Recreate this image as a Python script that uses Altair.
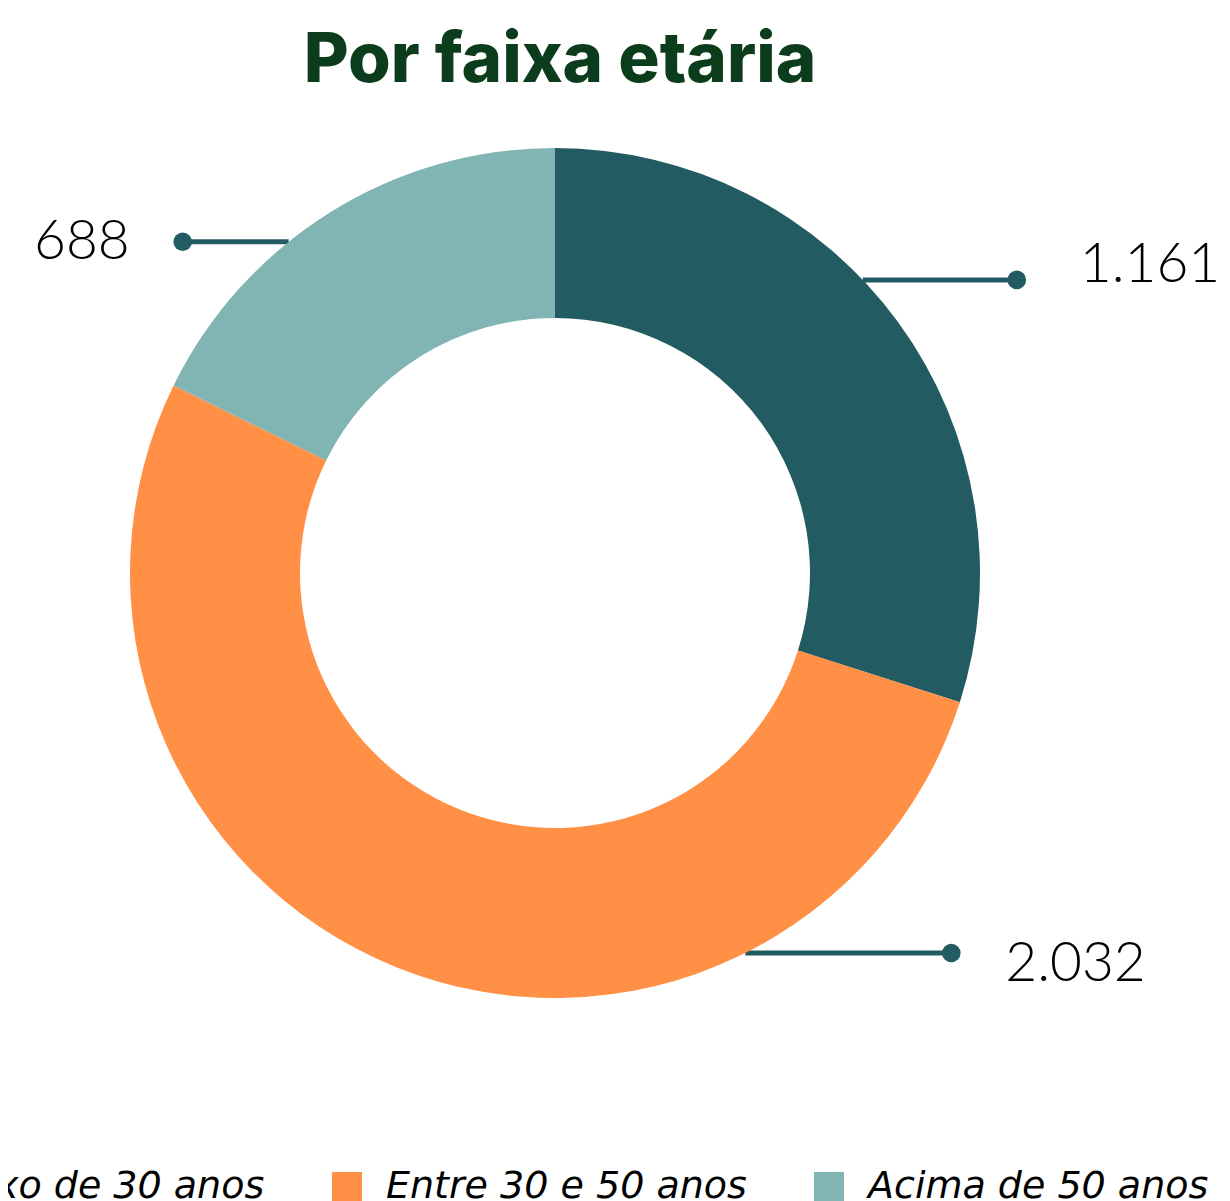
import altair as alt
import pandas as pd
import numpy as np

categories = ["Abaixo de 30 anos", "Entre 30 e 50 anos", "Acima de 50 anos"]
values = [1161, 2032, 688]
value_labels = ["1.161", "2.032", "688"]
colors = ["#235B63", "#FF9045", "#80B5B3"]

# annotation layout (leader lines)
anchor_deg = [46.4, 153.4, 321.2]
leader_len = [154, 206, 106]
label_gap = [63, 54, 53]
label_dy = [-15, 11, 0]

W, H = 1094, 910
R_OUT, R_IN = 425, 255
PAD = {"left": 0, "top": 110, "right": 120, "bottom": 200}

df = pd.DataFrame({"cat": categories, "value": values, "idx": range(len(values))})

cx, cy = W / 2, H / 2
rows = []
for lab, a, L, g, dy in zip(value_labels, anchor_deg, leader_len, label_gap, label_dy):
    r = np.radians(a)
    sx = cx + R_OUT * np.sin(r)
    sy = cy - R_OUT * np.cos(r)
    side = 1 if np.sin(r) >= 0 else -1
    dx = sx + side * L
    rows.append({"label": lab, "sx": sx, "y": sy, "dx": dx,
                 "tx": dx + side * g, "ty": sy + dy, "side": side})
ann = pd.DataFrame(rows)

base_ann = alt.Chart(ann)
rules = base_ann.mark_rule(color="#235B63", strokeWidth=5).encode(
    x=alt.X("sx:Q", scale=None), x2="dx:Q", y=alt.Y("y:Q", scale=None)
)
dots = base_ann.mark_point(filled=True, color="#235B63", size=346, opacity=1, shape="circle").encode(
    x=alt.X("dx:Q", scale=None), y=alt.Y("y:Q", scale=None)
)
txt_style = dict(font="Lato", fontSize=55, fontWeight=300, color="black", baseline="middle")
text_r = alt.Chart(ann[ann.side > 0]).mark_text(align="left", **txt_style).encode(
    x=alt.X("tx:Q", scale=None), y=alt.Y("ty:Q", scale=None), text="label:N"
)
text_l = alt.Chart(ann[ann.side < 0]).mark_text(align="right", **txt_style).encode(
    x=alt.X("tx:Q", scale=None), y=alt.Y("ty:Q", scale=None), text="label:N"
)

arc = alt.Chart(df).mark_arc(innerRadius=R_IN, outerRadius=R_OUT, strokeWidth=0).encode(
    theta=alt.Theta("value:Q", stack=True),
    order=alt.Order("idx:Q"),
    color=alt.Color(
        "cat:N",
        scale=alt.Scale(domain=categories, range=colors),
        legend=alt.Legend(
            orient="none", legendX=-154, legendY=1050, direction="horizontal",
            title=None, symbolType="square", symbolSize=900, symbolStrokeWidth=0,
            symbolOpacity=1, labelFont="DejaVu Sans", labelFontSize=38, labelFontStyle="italic",
            labelFontWeight=200, labelColor="black", labelOffset=20, columnPadding=63,
            padding=0, labelLimit=1000,
        ),
    ),
)

chart = alt.layer(rules, arc, dots, text_r, text_l).properties(
    width=W, height=H,
    title=alt.TitleParams("Por faixa etária", font="Inter", fontSize=69, fontWeight=800,
                          color="#0B3D1C", anchor="middle", dx=5, offset=22),
    autosize=alt.AutoSizeParams(type="none"),
    padding=PAD,
).configure_view(stroke=None)

chart.save("out.html", embed_options={"renderer": "svg", "actions": False})
